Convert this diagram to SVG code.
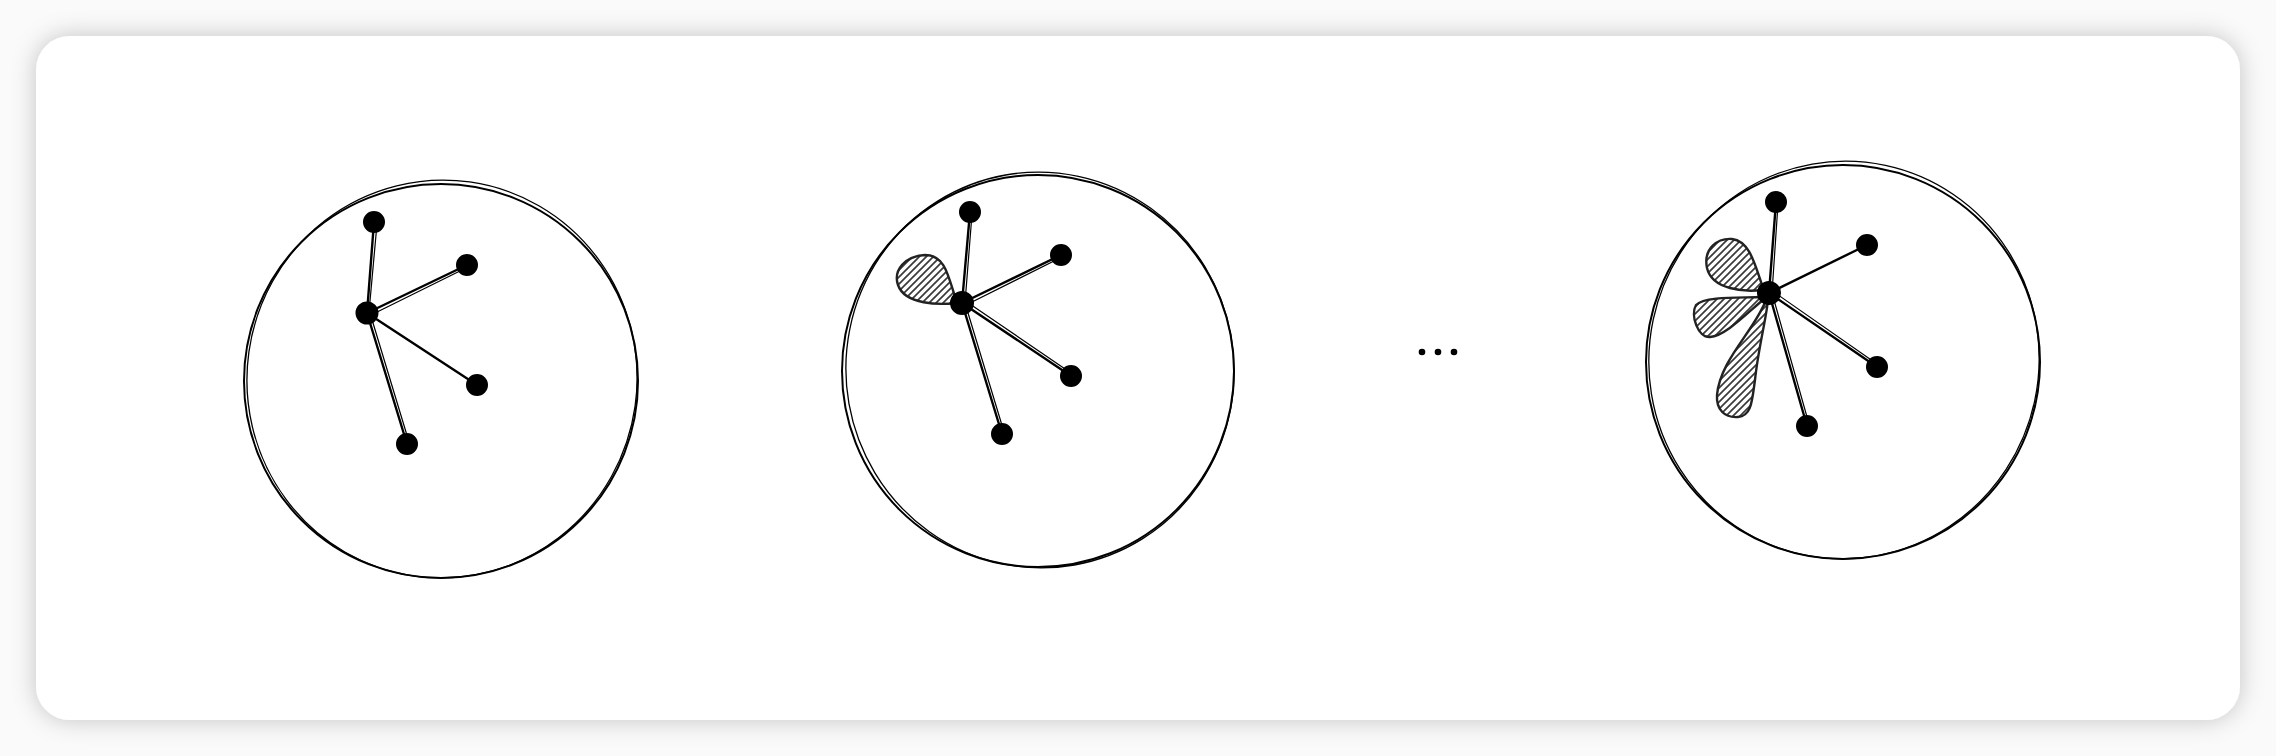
<svg xmlns="http://www.w3.org/2000/svg" width="2276" height="756" viewBox="0 0 2276 756">
<style>
.ring{fill:none;stroke:#000;stroke-width:2}
.ring2{fill:none;stroke:#000;stroke-width:1.3}
.edge{stroke:#000;stroke-width:2.4;stroke-linecap:round}
.edge2{stroke:#000;stroke-width:1.2;stroke-linecap:round}
.node{fill:#000;stroke:#000;stroke-width:2}
.lobe{fill:url(#hatch);stroke:#222;stroke-width:2.4;stroke-linejoin:round}
.dot{fill:#000}
</style>
<defs>
<filter id="shadow" x="-5%" y="-10%" width="110%" height="120%">
<feDropShadow dx="0" dy="0" stdDeviation="12" flood-color="#000" flood-opacity="0.22"/>
</filter>
<pattern id="hatch" patternUnits="userSpaceOnUse" width="7" height="7">
<rect width="7" height="7" fill="#fff"/>
<path d="M-2,2 L2,-2 M0,7 L7,0 M5,9 L9,5" stroke="#3a3a3a" stroke-width="1.7"/>
</pattern>
</defs>
<rect width="2276" height="756" fill="#fafafa"/>
<rect x="36" y="36" width="2204" height="684" rx="34" ry="34" fill="#fff" filter="url(#shadow)"/>

<g id="connectors">
<line class="edge" x1="367" y1="313" x2="374" y2="222"/>
<line class="edge2" x1="369" y1="312" x2="377" y2="224"/>
<line class="edge" x1="367" y1="313" x2="467" y2="265"/>
<line class="edge2" x1="369" y1="316" x2="466" y2="268"/>
<line class="edge" x1="367" y1="313" x2="477" y2="385"/>
<line class="edge" x1="367" y1="313" x2="407" y2="444"/>
<line class="edge2" x1="370" y1="313" x2="409" y2="442"/>
<line class="edge" x1="962" y1="303" x2="970" y2="212"/>
<line class="edge2" x1="965" y1="303" x2="972" y2="214"/>
<line class="edge" x1="962" y1="303" x2="1061" y2="255"/>
<line class="edge2" x1="964" y1="306" x2="1060" y2="258"/>
<line class="edge" x1="962" y1="303" x2="1071" y2="376"/>
<line class="edge2" x1="964" y1="300" x2="1071" y2="373"/>
<line class="edge" x1="962" y1="303" x2="1002" y2="434"/>
<line class="edge2" x1="965" y1="303" x2="1004" y2="432"/>
<line class="edge" x1="1769" y1="293" x2="1776" y2="202"/>
<line class="edge2" x1="1772" y1="293" x2="1778" y2="204"/>
<line class="edge" x1="1769" y1="293" x2="1867" y2="245"/>
<line class="edge" x1="1769" y1="293" x2="1877" y2="367"/>
<line class="edge2" x1="1771" y1="290" x2="1877" y2="364"/>
<line class="edge" x1="1769" y1="293" x2="1807" y2="426"/>
<line class="edge2" x1="1772" y1="293" x2="1809" y2="424"/>
</g>

<g id="graph1">
<ellipse class="ring" cx="441" cy="381" rx="197" ry="197"/>
<ellipse class="ring2" cx="442" cy="379" rx="195" ry="199" transform="rotate(8 442 379)"/>
<circle class="node" cx="367" cy="313" r="10.5"/>
<circle class="node" cx="374" cy="222" r="10"/>
<circle class="node" cx="467" cy="265" r="10"/>
<circle class="node" cx="477" cy="385" r="10"/>
<circle class="node" cx="407" cy="444" r="10"/>
</g>

<g id="graph2">
<ellipse class="ring" cx="1038" cy="371" rx="196" ry="196"/>
<ellipse class="ring2" cx="1040" cy="370" rx="194" ry="198" transform="rotate(-10 1040 370)"/>
<path class="lobe" d="M956,303 C940,305 905,305 898,285 C893,270 905,256 925,255 C945,255 948,275 956,300 Z"/>
<circle class="node" cx="962" cy="303" r="11"/>
<circle class="node" cx="970" cy="212" r="10"/>
<circle class="node" cx="1061" cy="255" r="10"/>
<circle class="node" cx="1071" cy="376" r="10"/>
<circle class="node" cx="1002" cy="434" r="10"/>
</g>

<g id="ellipsis">
<circle class="dot" cx="1422" cy="352" r="3.3"/>
<circle class="dot" cx="1438" cy="352" r="3.3"/>
<circle class="dot" cx="1454" cy="352" r="3.3"/>
</g>

<g id="graph3">
<ellipse class="ring" cx="1843" cy="362" rx="197" ry="197"/>
<ellipse class="ring2" cx="1844" cy="360" rx="195" ry="199" transform="rotate(12 1844 360)"/>
<path class="lobe" d="M1762,290 C1745,292 1712,290 1707,268 C1703,248 1718,238 1732,239 C1750,241 1755,265 1763,288 Z"/>
<path class="lobe" d="M1762,297 C1740,298 1705,296 1696,305 C1690,315 1698,338 1710,337 C1725,336 1745,315 1764,299 Z"/>
<path class="lobe" d="M1766,300 C1755,330 1720,360 1717,395 C1716,410 1725,418 1738,417 C1752,416 1752,400 1755,380 C1758,350 1766,320 1768,300 Z"/>
<circle class="node" cx="1769" cy="293" r="11"/>
<circle class="node" cx="1776" cy="202" r="10"/>
<circle class="node" cx="1867" cy="245" r="10"/>
<circle class="node" cx="1877" cy="367" r="10"/>
<circle class="node" cx="1807" cy="426" r="10"/>
</g>
</svg>
